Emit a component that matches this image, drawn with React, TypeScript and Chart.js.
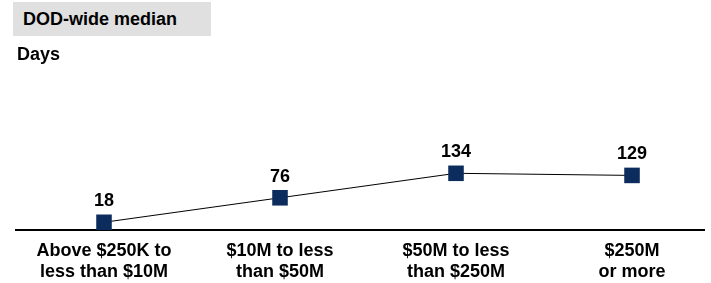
import React, { useEffect, useRef } from "react";
import { Chart, registerables } from "chart.js";

Chart.register(...registerables);

const categories: string[][] = [
  ["Above $250K to", "less than $10M"],
  ["$10M to less", "than $50M"],
  ["$50M to less", "than $250M"],
  ["$250M", "or more"],
];
const medianDays: number[] = [18, 76, 134, 129];
const titleText = "DOD-wide median";
const unitText = "Days";

const FONT = "'Liberation Sans', Arial, sans-serif";
const NAVY = "#0c2c5e";

const valueLabels = {
  id: "valueLabels",
  afterDatasetsDraw(chart: any) {
    const ctx = chart.ctx;
    const meta = chart.getDatasetMeta(0);
    ctx.save();
    ctx.font = `bold 18px ${FONT}`;
    ctx.fillStyle = "#000";
    ctx.textAlign = "center";
    ctx.textBaseline = "middle";
    meta.data.forEach((pt: any, i: number) => {
      ctx.fillText(String(medianDays[i]), pt.x, pt.y - 21);
    });
    ctx.restore();
  },
};

export default function App() {
  const ref = useRef<HTMLCanvasElement | null>(null);
  useEffect(() => {
    document.body.style.margin = "0";
    if (!ref.current) return;
    const chart = new Chart(ref.current, {
      type: "line",
      data: {
        datasets: [
          {
            data: medianDays.map((v, i) => ({ x: i, y: v })),
            borderColor: "#000",
            borderWidth: 1,
            pointStyle: "rect",
            pointRadius: 11,
            pointHoverRadius: 11,
            pointBackgroundColor: NAVY,
            pointBorderColor: NAVY,
            pointBorderWidth: 0,
            clip: false as any,
            tension: 0,
          },
        ],
      },
      options: {
        responsive: false,
        animation: false,
        layout: { padding: { left: 16, right: 11, top: 69, bottom: -11 } },
        plugins: { legend: { display: false }, tooltip: { enabled: false } },
        scales: {
          x: {
            type: "linear",
            min: -0.5,
            max: 3.409,
            grid: { display: false, drawTicks: false },
            border: { display: true, color: "#000", width: 2 },
            ticks: {
              stepSize: 1,
              autoSkip: false,
              maxRotation: 0,
              padding: 11,
              color: "#000",
              font: { family: FONT, size: 18, weight: "bold", lineHeight: 1.17 },
              callback: (v: any) => {
                const i = Number(v);
                return Number.isInteger(i) && categories[i] ? categories[i] : "";
              },
            },
            afterBuildTicks: (axis: any) => {
              axis.ticks = categories.map((_, i) => ({ value: i }));
            },
            afterFit: (axis: any) => {
              axis.paddingLeft = 0;
              axis.paddingRight = 0;
            },
          },
          y: {
            display: false,
            min: 0,
            max: 381,
          },
        },
      },
      plugins: [valueLabels],
    });
    return () => chart.destroy();
  }, []);

  return (
    <div style={{ position: "relative", width: 711, height: 283, fontFamily: FONT, overflow: "hidden" }}>
      <canvas ref={ref} width={715} height={283} style={{ position: "absolute", left: 0, top: 0 }} />
      <div
        style={{
          position: "absolute",
          left: 13,
          top: 2,
          width: 198,
          height: 34,
          background: "#e0e0e0",
          boxSizing: "border-box",
          paddingLeft: 10,
          lineHeight: "34px",
          fontWeight: "bold",
          fontSize: 18,
          color: "#000",
        }}
      >
        {titleText}
      </div>
      <div
        style={{
          position: "absolute",
          left: 17,
          top: 43,
          lineHeight: "22px",
          fontWeight: "bold",
          fontSize: 18,
          color: "#000",
        }}
      >
        {unitText}
      </div>
    </div>
  );
}
